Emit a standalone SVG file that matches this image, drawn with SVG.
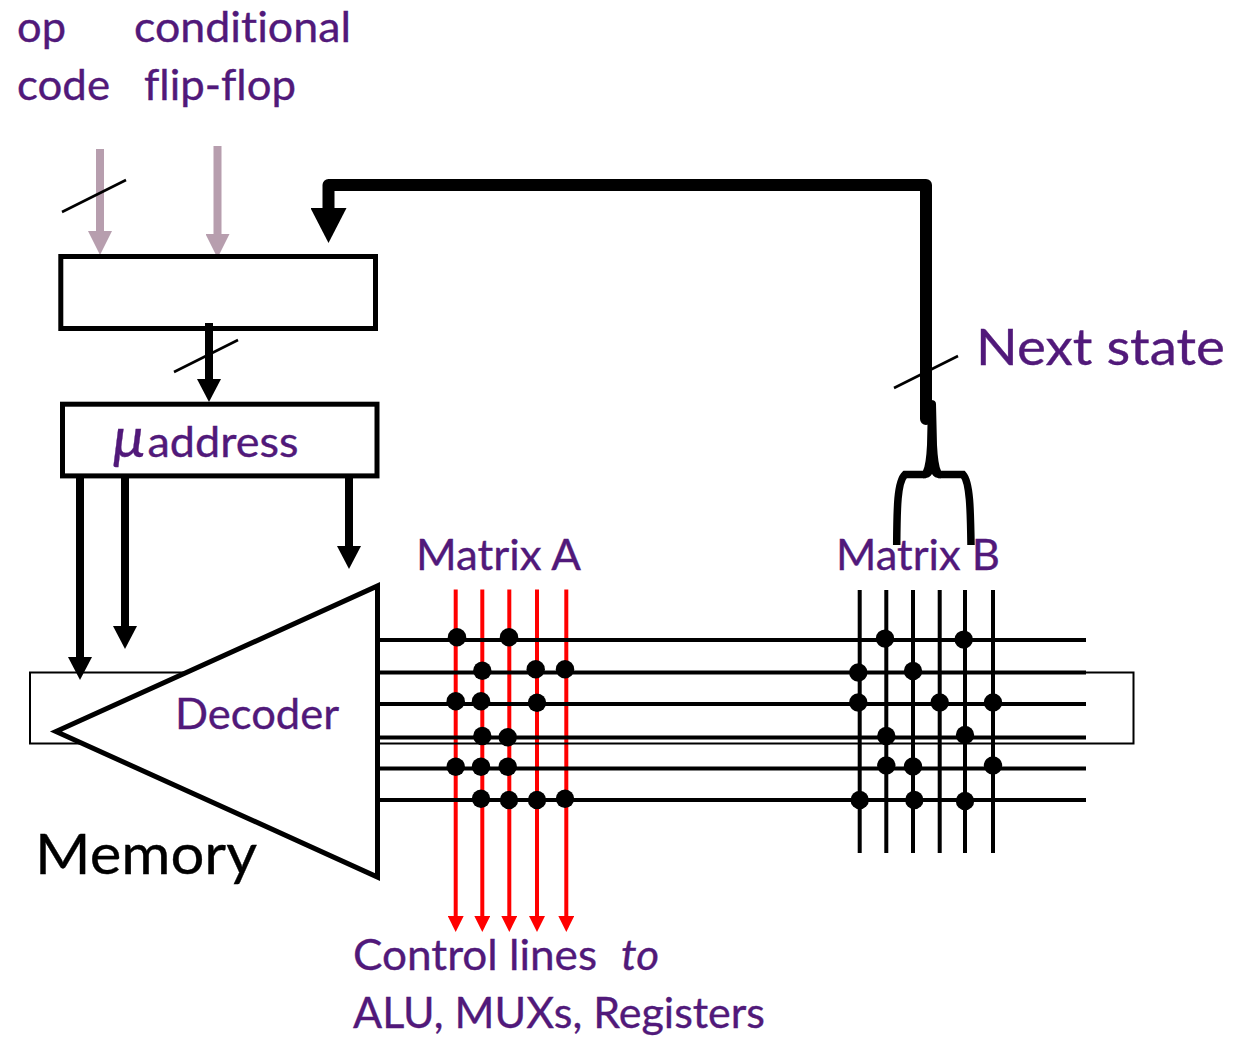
<svg xmlns="http://www.w3.org/2000/svg" width="1235" height="1040" viewBox="0 0 1235 1040">
<style>
text{font-family:"Lato","Open Sans","Liberation Sans",sans-serif;fill:#51197a;stroke:#51197a;stroke-width:.35;font-size:42px;font-variant-ligatures:none}
.box{fill:none;stroke:#000;stroke-width:5}
.hw{stroke:#000;stroke-width:4;fill:none}
.red{stroke:#f00;stroke-width:4;fill:none;marker-end:url(#hr)}
.dots circle{fill:#000;r:9.2px}
.bus{stroke:#000;stroke-width:8;fill:none;marker-end:url(#hb)}
.grey{stroke:#b79eae;stroke-width:8;fill:none;marker-end:url(#hg)}
.slash{stroke:#000;stroke-width:2.6;fill:none}
</style>
<defs>
<marker id="hb" markerUnits="userSpaceOnUse" markerWidth="24" markerHeight="24" refX="0" refY="12" orient="auto"><path d="M0 0L23 12L0 24z" fill="#000"/></marker>
<marker id="hg" markerUnits="userSpaceOnUse" markerWidth="24" markerHeight="24" refX="0" refY="12" orient="auto"><path d="M0 0L24 12L0 24z" fill="#b79eae"/></marker>
<marker id="hr" markerUnits="userSpaceOnUse" markerWidth="16" markerHeight="16" refX="0" refY="8" orient="auto"><path d="M0 0L16 8L0 16z" fill="#f00"/></marker>
<marker id="hn" markerUnits="userSpaceOnUse" markerWidth="36" markerHeight="36" refX="0" refY="18" orient="auto"><path d="M0 0L35 18L0 36z" fill="#000"/></marker>
</defs>
<rect width="1235" height="1040" fill="#fff"/>
<g id="connectors">
<g id="control-lines">
<line class="red" x1="455.7" y1="589.5" x2="455.7" y2="916"/>
<line class="red" x1="482.3" y1="589.5" x2="482.3" y2="916"/>
<line class="red" x1="509.3" y1="589.5" x2="509.3" y2="916"/>
<line class="red" x1="537" y1="589.5" x2="537" y2="916"/>
<line class="red" x1="566.3" y1="589.5" x2="566.3" y2="916"/>
</g>
</g>
<g id="memory"><rect x="30" y="672.5" width="1103.5" height="71" fill="none" stroke="#000" stroke-width="2"/>
<text x="35" y="874" textLength="222" lengthAdjust="spacingAndGlyphs" style="fill:#000;stroke:#000;font-size:56px">Memory</text></g>
<g id="connectors-2">
<g id="matrix-lines">
<path class="hw" d="M378 640H1086M378 672.500H1086M378 704H1086M378 737.500H1086M378 768.500H1086M378 800H1086"/>
<path class="hw" d="M859.7 590V853M886.3 590V853M913 590V853M939.7 590V853M965 590V853M993 590V853"/>
</g>
<g class="dots">
<circle cx="457" cy="637.3"/><circle cx="509" cy="637.3"/>
<circle cx="482.3" cy="670.7"/><circle cx="535.7" cy="669.3"/><circle cx="565" cy="669.3"/>
<circle cx="455.7" cy="701.3"/><circle cx="481" cy="701.3"/><circle cx="537" cy="702.7"/>
<circle cx="482.3" cy="736"/><circle cx="507.7" cy="737.3"/>
<circle cx="455.7" cy="766.7"/><circle cx="481" cy="766.7"/><circle cx="507.7" cy="766.7"/>
<circle cx="481" cy="798.7"/><circle cx="509" cy="800"/><circle cx="537" cy="800"/><circle cx="565" cy="798.7"/>
<circle cx="885" cy="638.6"/><circle cx="963.7" cy="639.6"/>
<circle cx="858.3" cy="672.5"/><circle cx="913" cy="671"/>
<circle cx="858.3" cy="702.5"/><circle cx="939.7" cy="702.5"/><circle cx="993" cy="702.5"/>
<circle cx="886.3" cy="736"/><circle cx="965" cy="735"/>
<circle cx="886.3" cy="765.500"/><circle cx="913" cy="766.500"/><circle cx="993" cy="765.500"/>
<circle cx="859.7" cy="800"/><circle cx="914.3" cy="800"/><circle cx="965" cy="801"/>
</g>
<line class="grey" x1="100" y1="149" x2="100" y2="231"/>
<line class="grey" x1="217.5" y1="146" x2="217.5" y2="234"/>
<line class="bus" x1="209" y1="323" x2="209" y2="379"/>
<line class="bus" x1="80" y1="476" x2="80" y2="657"/>
<line class="bus" x1="125" y1="476" x2="125" y2="626"/>
<line class="bus" x1="349" y1="476" x2="349" y2="546"/>
<path d="M926 419V185H328.5V208" fill="none" stroke="#000" stroke-width="12" stroke-linejoin="round" stroke-linecap="round" marker-end="url(#hn)"/>
<path d="M896.700 545C897 510 897 482 905 474.500H926M971 545C970.500 510 970 482 963 474.500H938" fill="none" stroke="#000" stroke-width="7.500"/>
<path d="M928 403Q928 400 931 400Q936 400 936 404L937 445Q938 465 941 470.700V478.200Q934 478.200 932 474Q930 478.200 923 478.200V470.700Q926 465 927 445Z" fill="#000"/>
<line class="slash" x1="62" y1="212" x2="126" y2="180"/>
<line class="slash" x1="174" y1="372" x2="238" y2="340"/>
<line class="slash" x1="894" y1="388" x2="958" y2="356"/>
</g>
<g id="register"><rect class="box" x="60.800" y="256.500" width="314.700" height="72"/></g>
<g id="uaddress"><rect class="box" x="62.500" y="404.200" width="314.500" height="71.700"/>
<text x="113" y="457" textLength="32" lengthAdjust="spacingAndGlyphs" style="font-style:italic;font-size:56px">μ</text>
<text x="147.500" y="457" textLength="151" lengthAdjust="spacingAndGlyphs">address</text></g>
<g id="decoder"><polygon points="56,731.500 377.500,586 377.500,877" fill="#fff" stroke="#000" stroke-width="5"/>
<text x="175" y="729" textLength="164" lengthAdjust="spacingAndGlyphs">Decoder</text></g>
<g id="labels">
<text x="17" y="42" textLength="49" lengthAdjust="spacingAndGlyphs">op</text>
<text x="134" y="42" textLength="217" lengthAdjust="spacingAndGlyphs">conditional</text>
<text x="17" y="100" textLength="93" lengthAdjust="spacingAndGlyphs">code</text>
<text x="144" y="100" textLength="152" lengthAdjust="spacingAndGlyphs">flip-flop</text>
<text x="976" y="365" textLength="249" lengthAdjust="spacingAndGlyphs" style="font-size:50px">Next state</text>
<text x="416" y="570" textLength="165" lengthAdjust="spacingAndGlyphs">Matrix A</text>
<text x="836" y="570" textLength="164" lengthAdjust="spacingAndGlyphs">Matrix B</text>
<text x="353" y="970" textLength="244" lengthAdjust="spacingAndGlyphs">Control lines</text>
<text x="621" y="970" textLength="38" lengthAdjust="spacingAndGlyphs" style="font-style:italic">to</text>
<text x="353" y="1028" textLength="412" lengthAdjust="spacingAndGlyphs">ALU, MUXs, Registers</text>
</g>
</svg>
